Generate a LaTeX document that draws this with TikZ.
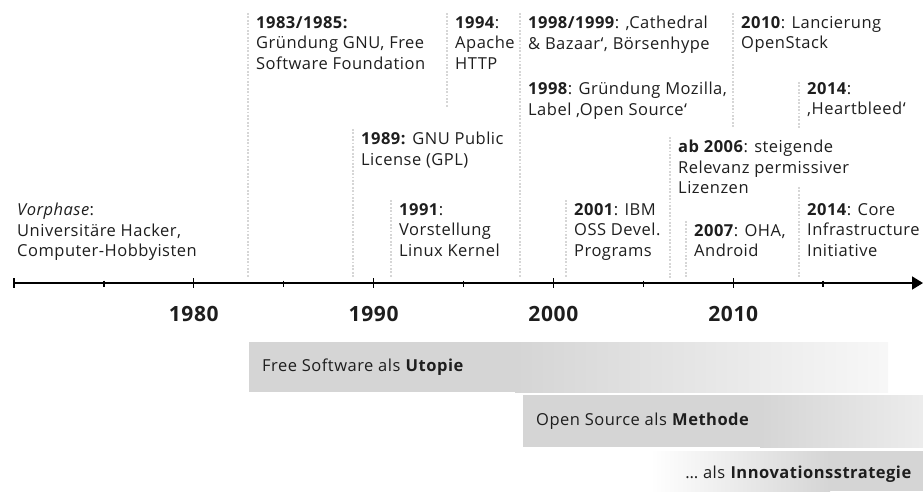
\documentclass[tikz,border=0pt]{standalone}
\usepackage{fontspec}
\setmainfont{Open Sans}[LetterSpace=3]
\usepackage{xcolor}
\usetikzlibrary{arrows.meta,calc,positioning}
\definecolor{bandgray}{HTML}{D5D5D5}
\definecolor{guidegray}{HTML}{D6D6D6}
\definecolor{ink}{HTML}{1E1E1E}

\tikzset{
  event/.style={anchor=north west, align=left, inner sep=0pt, text=ink,
    font=\fontsize{16.5}{20.5}\selectfont},
  guide/.style={guidegray, line width=1.8pt, dash pattern=on 1.8pt off 1.6pt},
  yearlabel/.style={text=ink, font=\fontsize{21}{25}\selectfont\bfseries},
  phase/.style={anchor=west, inner sep=0pt, text=ink,
    font=\fontsize{16.5}{18}\selectfont},
}

\begin{document}
\begin{tikzpicture}[x=1pt,y=-1pt]
    \useasboundingbox (0,0) rectangle (923,491);

    % Axis data
    \def\yearzero{1970}
    \def\yearpx{17.98}
    \def\axisx{14}

    % Time axis
    \coordinate (t0) at (\axisx,283);
    \coordinate (tend) at (923,283);
    \coordinate (base) at (0,278);
    \draw[line width=1.8pt, -{Triangle[length=11pt,width=13pt]}] (t0) -- (tend);

    % Ticks and years
    \foreach \yr in {1970,1980,...,2010} {
        \draw[line width=1.3pt] ({\axisx+(\yr-\yearzero)*\yearpx},278) -- ++(0,10);
    }
    \foreach \yr in {1975,1985,...,2015} {
        \draw[line width=1.3pt] ({\axisx+(\yr-\yearzero)*\yearpx},280.5) -- ++(0,6);
    }
    \foreach \yr in {1980,1990,2000,2010} {
        \node[yearlabel] (y\yr) at ({\axisx+(\yr-\yearzero)*\yearpx},314) {\yr};
    }

    % Events, upper rows
    \node[event] (ev1983) at (256,16) {\textbf{1983/1985:}\\Gründung GNU, Free\\Software Foundation};
    \node[event] (ev1994) at (455,16) {\textbf{1994}:\\Apache\\HTTP};
    \node[event] (ev1998a) at (528,16) {\textbf{1998/1999}: ‚Cathedral\\\& Bazaar‘, Börsenhype};
    \node[event] (ev1998b) at (528,82) {\textbf{1998}: Gründung Mozilla,\\Label ‚Open Source‘};
    \node[event] (ev2010) at (741,16) {\textbf{2010}: Lancierung\\OpenStack};
    \node[event] (ev2014a) at (807,82) {\textbf{2014}:\\‚Heartbleed‘};

    % Events, middle rows
    \node[event] (ev1989) at (361,132) {\textbf{1989:} GNU Public\\License (GPL)};
    \node[event] (ev2006) at (678,140) {\textbf{ab 2006}: steigende\\Relevanz permissiver\\Lizenzen};

    % Events, lower rows
    \node[event] (vorphase) at (17,203) {\textit{Vorphase}:\\Universitäre Hacker,\\Computer-Hobbyisten};
    \node[event] (ev1991) at (399,203) {\textbf{1991}:\\Vorstellung\\Linux Kernel};
    \node[event] (ev2001) at (574,203) {\textbf{2001}: IBM\\OSS Devel.\\Programs};
    \node[event] (ev2014b) at (807,203) {\textbf{2014}: Core\\Infrastructure\\Initiative};
    \node[event] (ev2007) at (694,224) {\textbf{2007}: OHA,\\Android};

    % Dotted guides down to the axis
    \foreach \ev in {ev1983,ev1998a,ev1989,ev2006,ev1991,ev2001,ev2007} {
        \draw[guide] ([shift={(-8,-3)}]\ev.north west) -- ([xshift=-8pt]\ev.north west |- base);
    }
    \draw[guide] ([shift={(-8,-16)}]ev2014b.north west) -- ([xshift=-8pt]ev2014b.north west |- base);
    % short guides
    \draw[guide] ([shift={(-8,-3)}]ev1994.north west) -- ++(0,95);
    \draw[guide] ([shift={(-8,-3)}]ev2010.north west) -- ++(0,114);
    \draw[guide] ([shift={(-8,0)}]ev2014a.north west) -- ++(0,46);

    % Phase bands
    \fill[bandgray] (249,342) rectangle (515,392);
    \shade[left color=bandgray, right color=white!97!black] (515,342) rectangle (888,392);
    \node[phase] (utopie) at (262,367) {Free Software als \textbf{Utopie}};

    \fill[bandgray] (523,395) rectangle (760,447);
    \shade[left color=bandgray, right color=bandgray!45] (760,395) rectangle (923,447);
    \node[phase] (methode) at (536,421) {Open Source als \textbf{Methode}};

    \shade[left color=white, right color=bandgray] (650,451) rectangle (830,491);
    \fill[bandgray] (830,451) rectangle (923,491);
    \node[phase, anchor=east] (strategie) at (912,474) {… als \textbf{Innovationsstrategie}};

\end{tikzpicture}
\end{document}
